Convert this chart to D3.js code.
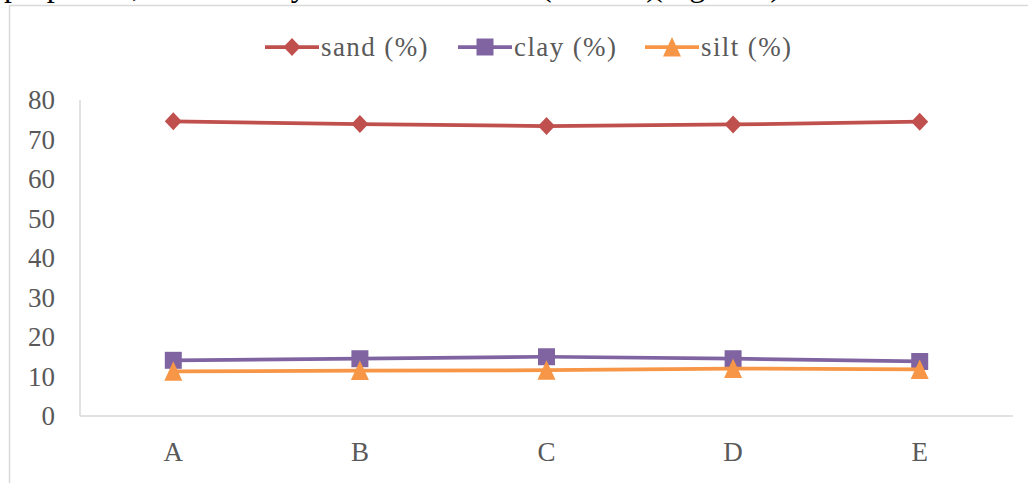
<!DOCTYPE html>
<html><head><meta charset="utf-8">
<script src="https://cdn.jsdelivr.net/npm/d3@7"></script>
<style>html,body{margin:0;padding:0;background:#fff;overflow:hidden}</style>
</head><body>
<svg id="chart" width="1029" height="483"></svg>
<script>
const categories = ["A", "B", "C", "D", "E"];
const sand = [74.6, 73.9, 73.4, 73.8, 74.5];
const clay = [14.1, 14.5, 15.0, 14.5, 13.8];
const silt = [11.3, 11.5, 11.6, 12.0, 11.8];
const yTicks = [0, 10, 20, 30, 40, 50, 60, 70, 80];
const seriesNames = ["sand (%)", "clay (%)", "silt (%)"];

const svg = d3.select("#chart");
const font = "'Liberation Serif','Times New Roman',serif";

// cropped document text above the chart (only descenders visible)
const topText = svg.append("text").attr("y", -4).attr("font-family", font)
  .attr("font-size", 32).attr("fill", "#000");
[["properties,", 4], ["sandy", 232], ["(Table 2)", 541], ["(Figure 1)", 652]]
  .forEach(([t, x]) => topText.append("tspan").attr("x", x).text(t));

// frame
svg.append("path").attr("d", "M9.5,483 V5.5 H1028").attr("fill", "none")
  .attr("stroke", "#d9d9d9").attr("stroke-width", 1.5);

const x = d3.scaleBand().domain(categories).range([80, 1013]);
const y = d3.scaleLinear().domain([0, 80]).range([416, 100]);

// axes lines
svg.append("line").attr("x1", 80).attr("x2", 80).attr("y1", y(80)).attr("y2", y(0))
  .attr("stroke", "#d9d9d9").attr("stroke-width", 1.5);
svg.append("line").attr("x1", 80).attr("x2", 1013).attr("y1", y(0)).attr("y2", y(0))
  .attr("stroke", "#d9d9d9").attr("stroke-width", 1.5);

// y tick labels
svg.append("g").selectAll("text").data(yTicks).join("text")
  .attr("x", 55).attr("y", d => y(d)).attr("dy", "0.34em")
  .attr("text-anchor", "end").attr("font-family", font).attr("font-size", 27)
  .attr("fill", "#595959").text(d => d);

// x labels
svg.append("g").selectAll("text").data(categories).join("text")
  .attr("x", d => x(d) + x.bandwidth() / 2).attr("y", 461)
  .attr("text-anchor", "middle").attr("font-family", font).attr("font-size", 27)
  .attr("fill", "#595959").text(d => d);

const colors = ["#C0504D", "#8064A2", "#F79646"];
const diamond = { draw(ctx) {
  ctx.moveTo(0, -9); ctx.lineTo(8.5, 0); ctx.lineTo(0, 9); ctx.lineTo(-8.5, 0); ctx.closePath();
}};
const square = { draw(ctx) { ctx.rect(-8.5, -8.5, 17, 17); } };
const triangle = { draw(ctx) {
  ctx.moveTo(0, -10); ctx.lineTo(9, 9.5); ctx.lineTo(-9, 9.5); ctx.closePath();
}};
const shapes = [d3.symbol().type(diamond), d3.symbol().type(square), d3.symbol().type(triangle)];
const data = [sand, clay, silt];
const line = d3.line().x((d, i) => x(categories[i]) + x.bandwidth() / 2).y(d => y(d));

data.forEach((vals, s) => {
  svg.append("path").datum(vals).attr("d", line).attr("fill", "none")
    .attr("stroke", colors[s]).attr("stroke-width", 3.75).attr("stroke-linejoin", "round");
  svg.append("g").selectAll("path").data(vals).join("path")
    .attr("transform", (d, i) => `translate(${x(categories[i]) + x.bandwidth() / 2},${y(d)})`)
    .attr("d", shapes[s]()).attr("fill", colors[s]);
});

// legend
const legendX = [265, 458, 645];
const leg = svg.append("g");
seriesNames.forEach((n, s) => {
  const lx = legendX[s];
  leg.append("line").attr("x1", lx).attr("x2", lx + 54).attr("y1", 47).attr("y2", 47)
    .attr("stroke", colors[s]).attr("stroke-width", 3.75);
  leg.append("path").attr("transform", `translate(${lx + 27},47)`)
    .attr("d", shapes[s]()).attr("fill", colors[s]);
  leg.append("text").attr("x", lx + 56).attr("y", 47).attr("dy", "0.34em")
    .attr("font-family", font).attr("font-size", 27).attr("letter-spacing", 1.4)
    .attr("fill", "#595959").text(n);
});
</script>
</body></html>
